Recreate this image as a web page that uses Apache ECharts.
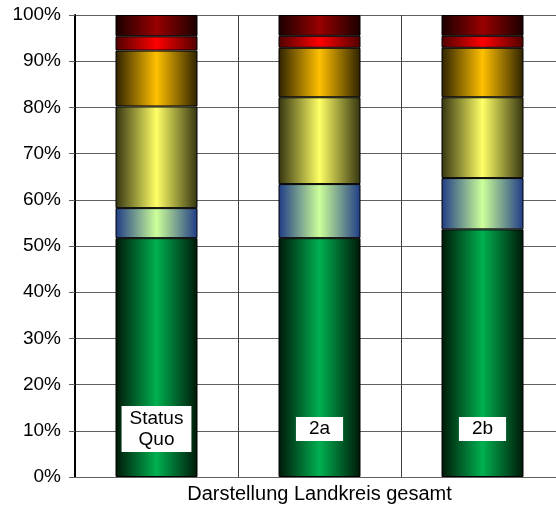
<!DOCTYPE html>
<html><head><meta charset="utf-8">
<script src="https://cdn.jsdelivr.net/npm/echarts@6/dist/echarts.min.js"></script>
<style>html,body{margin:0;padding:0;background:#fff}#c{width:556px;height:510px}</style>
</head><body><div id="c"></div>
<script>
var categories = ['Status Quo', '2a', '2b'];
var barLabels = ['Status\nQuo', '2a', '2b'];
var labelLevel = [10.4, 10.4, 10.4];
var yTicks = [0, 10, 20, 30, 40, 50, 60, 70, 80, 90, 100];
var green      = [51.7, 51.7, 53.6];
var lightGreen = [6.5, 11.7, 11.1];
var yellow     = [22.0, 18.8, 17.5];
var orange     = [12.1, 10.7, 10.7];
var red        = [3.1, 2.6, 2.6];
var darkRed    = [4.6, 4.5, 4.5];

var layers = [
  {name: 'green', data: green, edge: '#001808', mid: '#00b050'},
  {name: 'lightGreen', data: lightGreen, edge: '#1f3b86', mid: '#ccff99'},
  {name: 'yellow', data: yellow, edge: '#343410', mid: '#ffff66'},
  {name: 'orange', data: orange, edge: '#2e2200', mid: '#ffc000'},
  {name: 'red', data: red, edge: '#500000', mid: '#ff0000'},
  {name: 'darkRed', data: darkRed, edge: '#1a0000', mid: '#990000'}
];

function grad(edge, mid) {
  return new echarts.graphic.LinearGradient(0, 0, 1, 0, [
    {offset: 0, color: edge}, {offset: 0.5, color: mid}, {offset: 1, color: edge}
  ]);
}

var series = layers.map(function (l) {
  return {
    name: l.name, type: 'bar', stack: 'total', barWidth: 82,
    data: l.data,
    itemStyle: {color: grad(l.edge, l.mid), borderColor: '#000', borderWidth: 1},
    emphasis: {disabled: true}, z: 2
  };
});

series.push({
  type: 'scatter', symbolSize: 0, z: 5,
  itemStyle: {opacity: 1},
  data: labelLevel.map(function (v, i) {
    return {
      value: v,
      label: {padding: i === 0 ? [2, 8, 2, 8] : [2, 13, 1, 13]}
    };
  }),
  label: {
    show: true, position: 'inside', opacity: 1,
    formatter: function (p) { return barLabels[p.dataIndex]; },
    backgroundColor: '#fff', color: '#000',
    fontFamily: 'Liberation Sans, Arial, sans-serif', fontSize: 19, lineHeight: 21
  },
  emphasis: {disabled: true},
  silent: true
});

var chart = echarts.init(document.getElementById('c'), null, {renderer: 'canvas'});
chart.setOption({
  animation: false,
  backgroundColor: '#fff',
  grid: {left: 75, top: 15, width: 489, height: 462, containLabel: false, outerBoundsMode: 'none'},
  xAxis: {
    type: 'category', data: categories, boundaryGap: true,
    name: 'Darstellung Landkreis gesamt', nameLocation: 'middle', nameGap: 7,
    nameTextStyle: {fontFamily: 'Liberation Sans, Arial, sans-serif', fontSize: 20, color: '#000'},
    axisLine: {show: true, lineStyle: {color: '#606060', width: 1}},
    axisTick: {show: false},
    axisLabel: {show: false},
    splitLine: {show: true, lineStyle: {color: '#404040', width: 1}}
  },
  yAxis: {
    type: 'value', min: 0, max: 100, interval: 10,
    axisLine: {show: true, lineStyle: {color: '#000', width: 2}},
    axisTick: {show: true, length: 6, lineStyle: {color: '#606060'}},
    axisLabel: {
      formatter: function (v) { return yTicks.indexOf(v) >= 0 ? v + '%' : ''; },
      margin: 14, color: '#000', fontFamily: 'Liberation Sans, Arial, sans-serif', fontSize: 19
    },
    splitLine: {show: true, lineStyle: {color: '#606060', width: 1}}
  },
  series: series
});
</script></body></html>
